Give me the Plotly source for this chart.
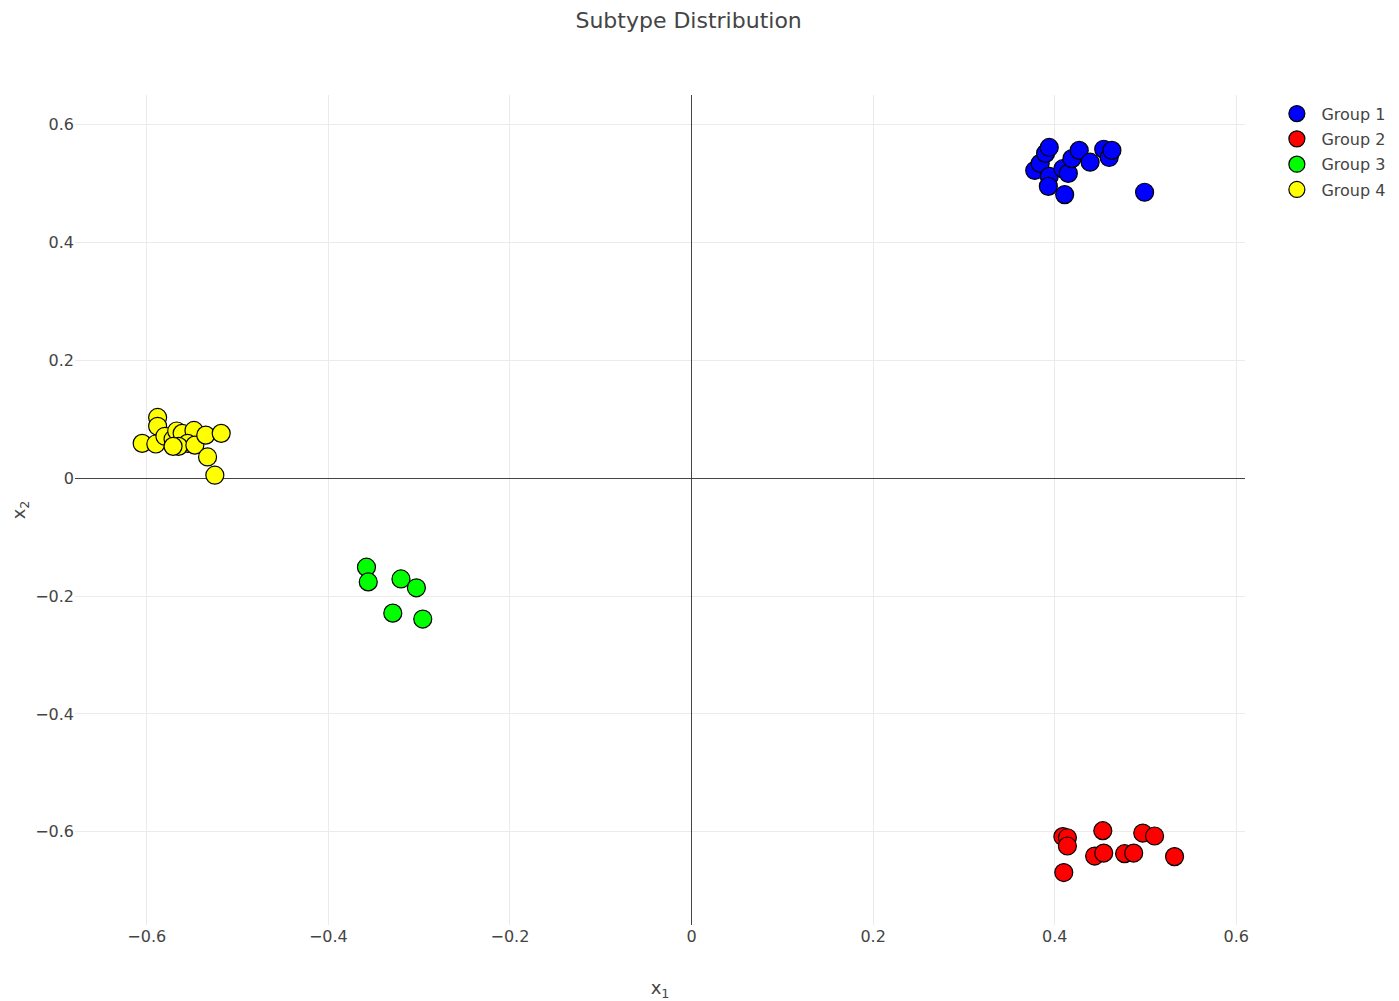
import plotly.graph_objects as go

group_names = ["Group 1", "Group 2", "Group 3", "Group 4"]
group_colors = ["#0000ff", "#ff0000", "#00ff00", "#ffff00"]

g1_x = [0.378, 0.384, 0.390, 0.394, 0.394, 0.393, 0.411, 0.409, 0.415, 0.419, 0.427, 0.439, 0.454, 0.460, 0.463, 0.499]
g1_y = [0.522, 0.534, 0.551, 0.561, 0.512, 0.495, 0.481, 0.525, 0.517, 0.542, 0.556, 0.536, 0.558, 0.544, 0.556, 0.485]

g2_x = [0.409, 0.414, 0.414, 0.410, 0.453, 0.444, 0.454, 0.477, 0.487, 0.497, 0.510, 0.532]
g2_y = [-0.608, -0.610, -0.624, -0.669, -0.598, -0.641, -0.636, -0.637, -0.636, -0.602, -0.607, -0.642]

g3_x = [-0.358, -0.356, -0.320, -0.303, -0.329, -0.296]
g3_y = [-0.151, -0.176, -0.171, -0.186, -0.229, -0.239]

g4_x = [-0.588, -0.588, -0.605, -0.590, -0.580, -0.571, -0.567, -0.561, -0.548, -0.555, -0.565, -0.571, -0.547, -0.535, -0.518, -0.533, -0.525]
g4_y = [0.103, 0.088, 0.059, 0.058, 0.071, 0.066, 0.080, 0.076, 0.081, 0.059, 0.054, 0.054, 0.056, 0.073, 0.076, 0.036, 0.005]

xs = [g1_x, g2_x, g3_x, g4_x]
ys = [g1_y, g2_y, g3_y, g4_y]

FONT = "DejaVu Sans, Verdana, sans-serif"

fig = go.Figure()
for name, color, x, y in zip(group_names, group_colors, xs, ys):
    fig.add_trace(go.Scatter(
        x=x, y=y, mode="markers", name=name, legendgroup=name,
        marker=dict(size=18, color=color, line=dict(color="black", width=1.2)),
    ))

fig.update_layout(
    width=1399, height=1001,
    title=dict(text="Subtype Distribution", x=0.4865, xanchor="center", y=0.995, yanchor="top",
               font=dict(size=22, color="#444", family=FONT)),
    font=dict(family=FONT, color="#444", size=16),
    plot_bgcolor="white", paper_bgcolor="white",
    margin=dict(l=67, r=162, t=87, b=84, autoexpand=False),
    legend=dict(font=dict(size=16), itemsizing="trace", itemwidth=39, x=1.0234, y=0.998,
                tracegroupgap=1.5),
    xaxis=dict(title=dict(text="x<sub>1</sub>", font=dict(size=18), standoff=36), range=[-0.679, 0.6096],
               automargin=False,
               dtick=0.2, showgrid=True, gridcolor="#ebebeb", zeroline=True,
               zerolinecolor="#444", zerolinewidth=1, showline=False),
    yaxis=dict(title=dict(text="x<sub>2</sub>", font=dict(size=18)), range=[-0.758, 0.650],
               automargin=False,
               dtick=0.2, showgrid=True, gridcolor="#ebebeb", zeroline=True,
               zerolinecolor="#444", zerolinewidth=1, showline=False),
)

fig.write_html("out.html")
